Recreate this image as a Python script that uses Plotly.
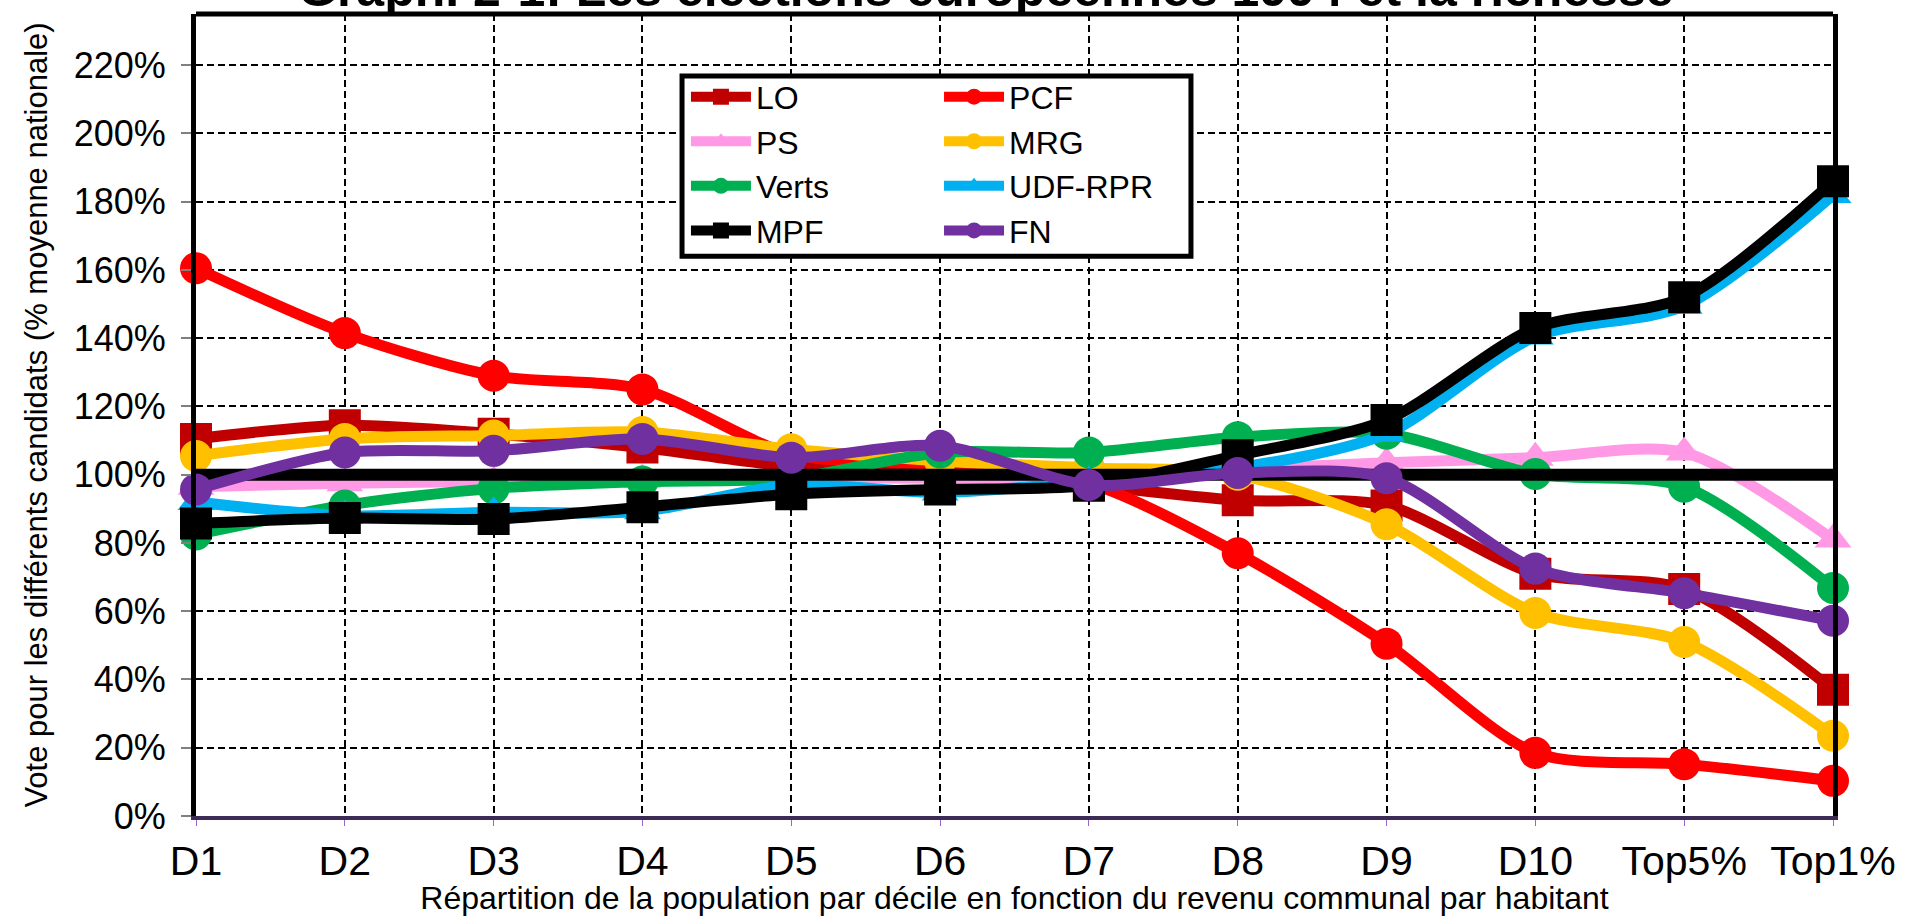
import plotly.graph_objects as go

CATEGORIES = ["D1", "D2", "D3", "D4", "D5", "D6", "D7", "D8", "D9", "D10", "Top5%", "Top1%"]

LO = [110.5, 114.5, 112, 108, 102.5, 102, 97, 92.5, 91, 71, 66.5, 37]
PCF = [160.5, 141.5, 129, 125, 106, 103, 97.5, 77, 50.5, 18.5, 15.2, 10.3]
PS = [96.5, 97.5, 98, 98.5, 99, 99, 99, 101.5, 103.5, 105, 106.5, 81]
MRG = [105.5, 110.5, 111.5, 112.5, 107.5, 104, 102, 100, 85.5, 59.5, 51, 23.5]
VERTS = [82.5, 91, 96, 98, 99, 106.5, 106.5, 111, 112, 100.2, 96.5, 66.8]
UDF_RPR = [92, 88, 89, 89.3, 97, 94.8, 98, 102, 112, 140.5, 149.5, 182]
MPF = [85.7, 87.3, 87, 90.5, 94.3, 95.7, 96.8, 105.7, 116, 143, 152, 186]
FN = [95.7, 106.5, 107, 110.5, 105, 108.5, 97, 100.5, 99, 72.5, 65.3, 57.2]
NATIONAL_AVG = 100

Y_TICKS = list(range(0, 221, 20))
Y_TICK_LABELS = [f"{v}%" for v in Y_TICKS]

SERIES = [
    ("LO", LO, "#C00000", "square", "legend"),
    ("PCF", PCF, "#FF0000", "circle", "legend2"),
    ("PS", PS, "#FF99E6", "triangle-up", "legend"),
    ("MRG", MRG, "#FFC000", "circle", "legend2"),
    ("Verts", VERTS, "#00B050", "circle", "legend"),
    ("UDF-RPR", UDF_RPR, "#00B0F0", "triangle-up", "legend2"),
    ("MPF", MPF, "#000000", "square", "legend"),
]
FN_SERIES = ("FN", FN, "#7030A0", "circle", "legend2")

FONT = "Arial, Liberation Sans, sans-serif"

fig = go.Figure()


def add_series(name, vals, color, symbol, legend):
    fig.add_trace(go.Scatter(
        x=CATEGORIES, y=vals, name=name, mode="lines+markers",
        line=dict(color=color, width=11, shape="spline", smoothing=0.8),
        marker=dict(color=color, symbol=symbol, size=32),
        cliponaxis=False, legend=legend,
    ))


for s in SERIES:
    add_series(*s)

fig.add_trace(go.Scatter(
    x=CATEGORIES, y=[NATIONAL_AVG] * len(CATEGORIES), mode="lines",
    line=dict(color="#000000", width=12), showlegend=False, hoverinfo="skip",
))

add_series(*FN_SERIES)

W, H = 1905, 916
ML, MR, MT, MB = 196, 72, 14, 100

LEG_FONT = dict(size=32, family=FONT, color="black")

fig.update_layout(
    width=W, height=H,
    margin=dict(l=ML, r=MR, t=MT, b=MB, autoexpand=False),
    paper_bgcolor="white", plot_bgcolor="white",
    font=dict(family=FONT, color="black"),
    showlegend=True,
    legend=dict(x=0.2993, y=0.931, xanchor="left", yanchor="top",
                bgcolor="rgba(0,0,0,0)", borderwidth=0, itemwidth=60,
                font=LEG_FONT, tracegroupgap=0),
    legend2=dict(x=0.4539, y=0.931, xanchor="left", yanchor="top",
                 bgcolor="rgba(0,0,0,0)", borderwidth=0, itemwidth=60,
                 font=LEG_FONT, tracegroupgap=0),
    xaxis=dict(
        type="category", range=[0, len(CATEGORIES) - 1],
        showgrid=True, gridcolor="black", gridwidth=2, griddash="7px,4px",
        showline=True, linecolor="#3d2b56", linewidth=4,
        ticks="outside", ticklen=6, tickcolor="#9966cc", tickwidth=1,
        tickfont=dict(size=41, family=FONT), ticklabelstandoff=0,
        title=dict(text="Répartition de la population par décile en fonction du revenu communal par habitant",
                   font=dict(size=32, family=FONT), standoff=6),
        zeroline=False, automargin=False,
    ),
    yaxis=dict(
        range=[0, 235], tickmode="array", tickvals=Y_TICKS, ticktext=Y_TICK_LABELS,
        showgrid=True, gridcolor="black", gridwidth=2, griddash="7px,4px",
        showline=True, linecolor="black", linewidth=5, mirror=True,
        ticks="outside", ticklen=10, tickcolor="#808080", tickwidth=2,
        tickfont=dict(size=36, family=FONT), ticklabelstandoff=8,
        title=dict(text="Vote pour les différents candidats (% moyenne nationale)",
                   font=dict(size=31, family=FONT), standoff=18),
        zeroline=False, automargin=False,
    ),
    shapes=[
        dict(type="line", xref="paper", yref="paper", x0=0, x1=1, y0=1, y1=1,
             line=dict(color="black", width=5), layer="above"),
        dict(type="rect", xref="paper", yref="paper", x0=0.2969, x1=0.6078, y0=0.698, y1=0.9227,
             line=dict(color="black", width=5), fillcolor="white", layer="above"),
    ],
    annotations=[
        dict(text="<b>Graph. 2-1: Les élections européennes 1994 et la richesse</b>",
             xref="paper", yref="paper", x=0.4826, y=1, xanchor="center", yanchor="middle",
             yshift=25, showarrow=False, font=dict(size=50, family=FONT, color="black")),
    ],
)

fig.write_html("out.html", config={"displayModeBar": False},
               post_script="document.body.style.margin='0px';")
